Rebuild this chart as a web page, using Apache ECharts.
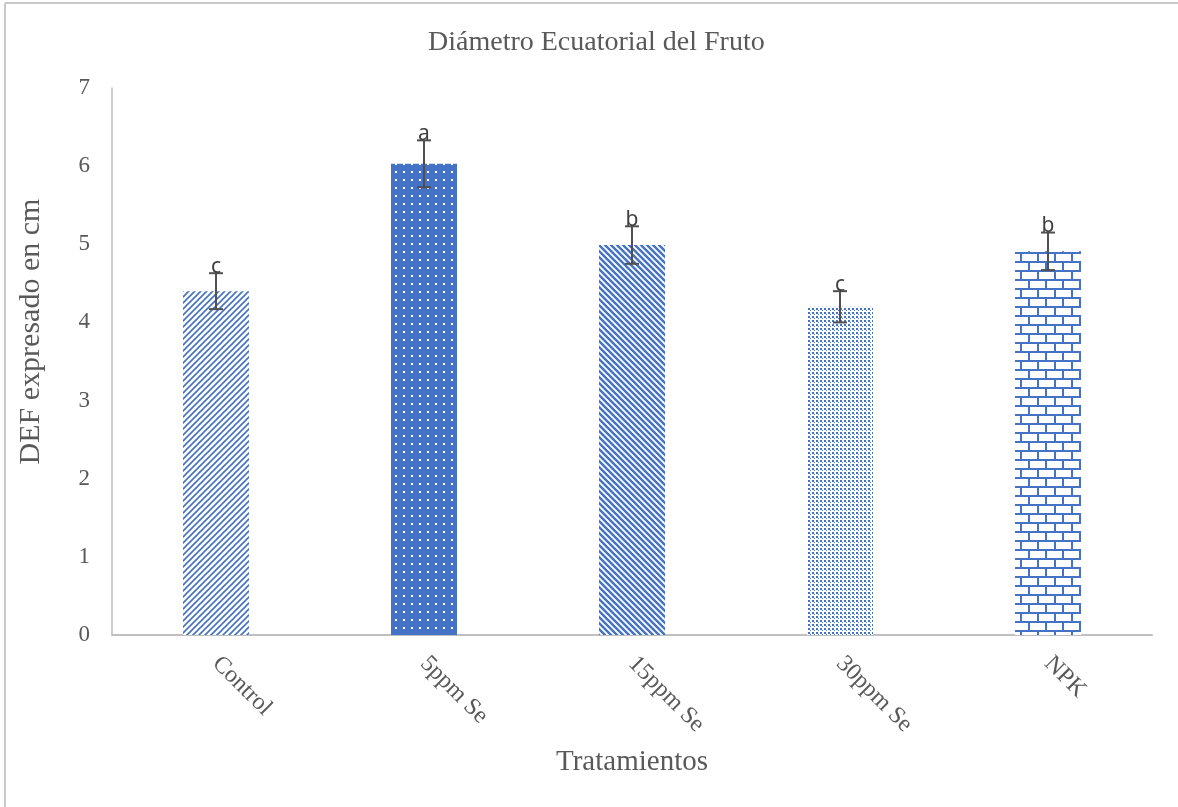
<!DOCTYPE html>
<html>
<head>
<meta charset="utf-8">
<script src="https://cdn.jsdelivr.net/npm/echarts@6/dist/echarts.min.js"></script>
<style>
  html, body { margin: 0; padding: 0; background: #fff; }
  #chart { width: 1178px; height: 807px; }
</style>
</head>
<body>
<div id="chart"></div>
<script>
const categories = ['Control', '5ppm Se', '15ppm Se', '30ppm Se', 'NPK'];
const means = [4.40, 6.03, 4.99, 4.20, 4.91];
const errors = [0.23, 0.30, 0.24, 0.20, 0.24];
const letters = ['c', 'a', 'b', 'c', 'b'];

const BLUE = '#4472C4';
const serif = '"Liberation Serif", "Times New Roman", serif';

function tile(w, h, draw) {
  const c = document.createElement('canvas');
  c.width = w; c.height = h;
  const ctx = c.getContext('2d');
  draw(ctx, w, h);
  return { image: c, repeat: 'repeat' };
}

// fill patterns, one per bar
const patterns = [
  // wide upward diagonal
  tile(6, 6, function (ctx, w, h) {
    ctx.fillStyle = '#fff'; ctx.fillRect(0, 0, w, h);
    ctx.strokeStyle = BLUE; ctx.lineWidth = 1.6;
    ctx.beginPath();
    ctx.moveTo(-1, h + 1); ctx.lineTo(w + 1, -1);
    ctx.moveTo(-1, 1); ctx.lineTo(1, -1);
    ctx.moveTo(w - 1, h + 1); ctx.lineTo(w + 1, h - 1);
    ctx.stroke();
  }),
  // solid with white dots
  tile(8, 8, function (ctx, w, h) {
    ctx.fillStyle = BLUE; ctx.fillRect(0, 0, w, h);
    ctx.fillStyle = '#fff';
    ctx.fillRect(3, 3, 2, 2);
  }),
  // wide downward diagonal
  tile(6, 6, function (ctx, w, h) {
    ctx.fillStyle = '#fff'; ctx.fillRect(0, 0, w, h);
    ctx.strokeStyle = BLUE; ctx.lineWidth = 2.4;
    ctx.beginPath();
    ctx.moveTo(-1, -1); ctx.lineTo(w + 1, h + 1);
    ctx.moveTo(w - 1, -1); ctx.lineTo(w + 1, 1);
    ctx.moveTo(-1, h - 1); ctx.lineTo(1, h + 1);
    ctx.stroke();
  }),
  // small dotted grid
  tile(4, 4, function (ctx, w, h) {
    ctx.fillStyle = '#fff'; ctx.fillRect(0, 0, w, h);
    ctx.fillStyle = BLUE;
    ctx.fillRect(0, 0, 2, 2);
    ctx.fillRect(2, 2, 1, 1);
  }),
  // horizontal brick
  tile(17, 18, function (ctx, w, h) {
    ctx.fillStyle = '#fff'; ctx.fillRect(0, 0, w, h);
    ctx.fillStyle = BLUE;
    ctx.fillRect(0, 0, w, 2);
    ctx.fillRect(0, 9, w, 2);
    ctx.fillRect(0, 0, 2, 9);
    ctx.fillRect(8, 9, 2, 9);
  })
];

const chart = echarts.init(document.getElementById('chart'));

const option = {
  backgroundColor: '#fff',
  animation: false,
  title: {
    text: 'Diámetro Ecuatorial del Fruto',
    left: 423,
    top: 24,
    textStyle: { fontFamily: serif, fontSize: 28, fontWeight: 'normal', color: '#595959' }
  },
  graphic: [
    { type: 'line', shape: { x1: 5, y1: 3, x2: 1178, y2: 3 }, style: { stroke: '#C9C9C9', lineWidth: 2 } },
    { type: 'line', shape: { x1: 5, y1: 3, x2: 5, y2: 807 }, style: { stroke: '#C9C9C9', lineWidth: 2 } }
  ],
  grid: { left: 112, right: 26, top: 88, bottom: 172 },
  xAxis: {
    type: 'category',
    data: categories,
    name: 'Tratamientos',
    nameLocation: 'middle',
    nameGap: 113,
    nameTextStyle: { fontFamily: serif, fontSize: 29, color: '#595959' },
    axisLine: { lineStyle: { color: '#BFBFBF', width: 2 } },
    axisTick: { show: false },
    axisLabel: { rotate: -45, margin: 25, fontFamily: serif, fontSize: 24, color: '#595959' }
  },
  yAxis: {
    type: 'value',
    min: 0,
    max: 7,
    interval: 1,
    name: 'DEF expresado en cm',
    nameLocation: 'middle',
    nameGap: 66,
    nameTextStyle: { fontFamily: serif, fontSize: 30, color: '#595959', padding: [0, 0, 0, 60] },
    axisLine: { show: true, lineStyle: { color: '#BFBFBF', width: 1.5 } },
    axisTick: { show: false },
    splitLine: { show: false },
    axisLabel: { margin: 22, fontFamily: serif, fontSize: 23, color: '#595959' }
  },
  series: [
    {
      type: 'bar',
      barWidth: 66,
      data: means.map(function (v, i) {
        return { value: v, itemStyle: { color: patterns[i] } };
      })
    },
    {
      type: 'custom',
      z: 10,
      data: means.map(function (v, i) { return [i, v, errors[i]]; }),
      renderItem: function (params, api) {
        const i = api.value(0);
        const m = api.value(1);
        const e = api.value(2);
        const top = api.coord([i, m + e]);
        const bot = api.coord([i, m - e]);
        const cap = 7;
        const st = { stroke: '#505050', lineWidth: 2 };
        return {
          type: 'group',
          children: [
            { type: 'line', shape: { x1: top[0], y1: top[1], x2: bot[0], y2: bot[1] }, style: st },
            { type: 'line', shape: { x1: top[0] - cap, y1: top[1], x2: top[0] + cap, y2: top[1] }, style: st },
            { type: 'line', shape: { x1: bot[0] - cap, y1: bot[1], x2: bot[0] + cap, y2: bot[1] }, style: st },
            {
              type: 'text',
              style: {
                x: top[0], y: top[1] + 4,
                text: letters[params.dataIndex],
                align: 'center', verticalAlign: 'bottom',
                fontFamily: '"Noto Sans", sans-serif', fontSize: 21, fill: '#404040'
              }
            }
          ]
        };
      }
    }
  ]
};

chart.setOption(option);
</script>
</body>
</html>
